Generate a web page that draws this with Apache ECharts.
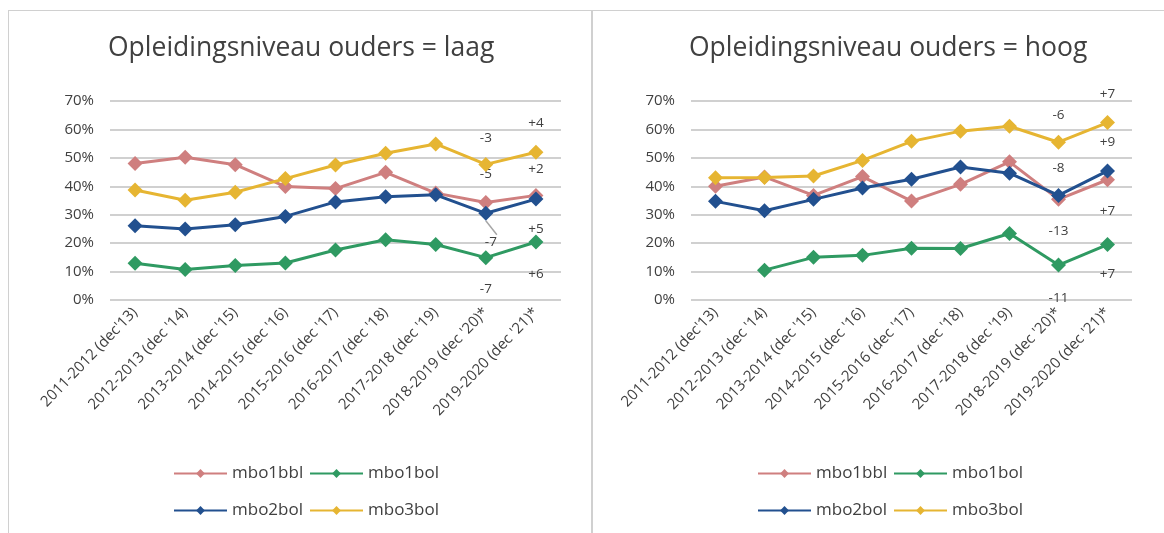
<!DOCTYPE html>
<html lang="nl">
<head>
<meta charset="utf-8"/>
<title>Opleidingsniveau ouders</title>
<script src="https://cdn.jsdelivr.net/npm/echarts@6/dist/echarts.min.js"></script>
<style>
	body { margin: 0; background: #fff; }
	.panel { position: absolute; top: 10px; height: 523px; box-sizing: border-box; border-top: 1px solid #d0d0d0; }
	#laag { left: 8px; width: 585px; border-left: 1px solid #d0d0d0; border-right: 2px solid #d0d0d0; }
	#hoog { left: 593px; width: 571px; }
</style>
</head>
<body>
<div id="laag" class="panel"></div>
<div id="hoog" class="panel"></div>

<script type="text/javascript">
	var categories = ["2011-2012 (dec'13)", "2012-2013 (dec '14)", "2013-2014 (dec '15)", "2014-2015 (dec '16)",
		"2015-2016 (dec '17)", "2016-2017 (dec '18)", "2017-2018 (dec '19)", "2018-2019 (dec '20)*", "2019-2020 (dec '21)*"];
	var seriesNames = ['mbo1bbl', 'mbo1bol', 'mbo2bol', 'mbo3bol'];
	var yTicks = [0, 10, 20, 30, 40, 50, 60, 70];

	// ouders laag (in %)
	var laagMbo1bbl = [48.0, 50.2, 47.6, 39.9, 39.2, 44.9, 37.6, 34.3, 36.8];
	var laagMbo1bol = [12.9, 10.7, 12.1, 13.0, 17.6, 21.2, 19.5, 14.9, 20.4];
	var laagMbo2bol = [26.1, 25.0, 26.5, 29.4, 34.5, 36.3, 37.0, 30.5, 35.5];
	var laagMbo3bol = [38.7, 35.1, 37.9, 42.7, 47.5, 51.6, 54.9, 47.7, 52.0];
	// verschil-labels laag
	var laagLbl1bbl = [null, null, null, null, null, null, null, '-5', '+2'];
	var laagLbl1bol = [null, null, null, null, null, null, null, '-7', '+6'];
	var laagLbl2bol = [null, null, null, null, null, null, null, '-7', '+5'];
	var laagLbl3bol = [null, null, null, null, null, null, null, '-3', '+4'];

	// ouders hoog (in %)
	var hoogMbo1bbl = [40.0, 43.3, 36.8, 43.4, 34.8, 40.7, 48.6, 35.4, 42.3];
	var hoogMbo1bol = [null, 10.5, 15.0, 15.7, 18.2, 18.1, 23.4, 12.3, 19.5];
	var hoogMbo2bol = [34.7, 31.4, 35.4, 39.4, 42.5, 46.8, 44.6, 36.8, 45.4];
	var hoogMbo3bol = [43.0, 43.1, 43.6, 49.1, 55.8, 59.4, 61.1, 55.5, 62.4];
	// verschil-labels hoog
	var hoogLbl1bbl = [null, null, null, null, null, null, null, '-13', '+7'];
	var hoogLbl1bol = [null, null, null, null, null, null, null, '-11', '+7'];
	var hoogLbl2bol = [null, null, null, null, null, null, null, '-8', '+9'];
	var hoogLbl3bol = [null, null, null, null, null, null, null, '-6', '+7'];

	var colors = ['#cf7f7f', '#2f9a62', '#22508f', '#e6b532'];
	var fontFam = '"Open Sans", "DejaVu Sans", sans-serif';

	function buildOption(title, values, labels, labelPos, labelDist) {
		var series = [];
		for (var i = 0; i < values.length; i++) {
			var lbls = labels[i];
			series.push({
				name: seriesNames[i],
				type: 'line',
				data: values[i].map(function (v, k) {
					var item = { value: v };
					if (lbls[k]) {
						item.label = {
							show: true,
							formatter: lbls[k],
							position: labelPos[i],
							distance: labelDist[i][k]
						};
					}
					return item;
				}),
				color: colors[i],
				symbol: 'diamond',
				symbolSize: 15,
				lineStyle: { width: 3 },
				label: { show: false, color: '#404040', fontSize: 13.5, fontFamily: fontFam },
				connectNulls: false,
				z: 2 + i
			});
		}
		var legends = [];
		for (var j = 0; j < 4; j++) {
			legends.push({
				data: [seriesNames[j]],
				left: j % 2 === 0 ? 164 : 300,
				top: j < 2 ? 454 : 491,
				padding: 0,
				itemWidth: 53,
				itemHeight: 11,
				itemGap: 5,
				textStyle: { fontSize: 17, color: '#404040', fontFamily: fontFam }
			});
		}
		return {
			animation: false,
			title: {
				text: title,
				left: 99,
				top: 24,
				padding: 0,
				textStyle: { fontSize: 26.5, fontWeight: 'normal', color: '#404040', fontFamily: fontFam }
			},
			legend: legends,
			grid: { left: 101, top: 90, width: 451, height: 199 },
			xAxis: {
				type: 'category',
				data: categories,
				boundaryGap: true,
				axisLine: { show: false },
				axisTick: { show: false },
				axisLabel: {
					interval: 0,
					rotate: 46,
					margin: 10,
					color: '#404040',
					fontSize: 15,
					fontFamily: fontFam
				}
			},
			yAxis: {
				type: 'value',
				min: yTicks[0],
				max: yTicks[yTicks.length - 1],
				interval: 10,
				axisLine: { show: false },
				axisTick: { show: false },
				splitLine: { lineStyle: { color: '#d0d0d0', width: 2 } },
				axisLabel: {
					margin: 16,
					formatter: '{value}%',
					color: '#404040',
					fontSize: 15,
					fontFamily: fontFam
				}
			},
			series: series
		};
	}

	var laagChart = echarts.init(document.getElementById('laag'));
	var laagOpt = buildOption('Opleidingsniveau ouders = laag',
		[laagMbo1bbl, laagMbo1bol, laagMbo2bol, laagMbo3bol],
		[laagLbl1bbl, laagLbl1bol, laagLbl2bol, laagLbl3bol],
		['top', 'bottom', 'bottom', 'top'],
		[[0, 0, 0, 0, 0, 0, 0, 14, 12], [0, 0, 0, 0, 0, 0, 0, 17, 18], [0, 0, 0, 0, 0, 0, 0, 14, 16], [0, 0, 0, 0, 0, 0, 0, 12, 15]]);
	// "-7" bij mbo2bol is verplaatst, met verbindingslijntje
	var moved = laagOpt.series[2].data[7];
	moved.label.offset = [5, 0];
	moved.labelLine = { show: true, lineStyle: { color: '#a6a6a6', width: 1.5 } };
	laagChart.setOption(laagOpt);

	var hoogChart = echarts.init(document.getElementById('hoog'));
	var hoogOpt = buildOption('Opleidingsniveau ouders = hoog',
		[hoogMbo1bbl, hoogMbo1bol, hoogMbo2bol, hoogMbo3bol],
		[hoogLbl1bbl, hoogLbl1bol, hoogLbl2bol, hoogLbl3bol],
		['bottom', 'bottom', 'top', 'top'],
		[[0, 0, 0, 0, 0, 0, 0, 17, 17], [0, 0, 0, 0, 0, 0, 0, 19, 15], [0, 0, 0, 0, 0, 0, 0, 13, 14], [0, 0, 0, 0, 0, 0, 0, 13, 14]]);
	hoogOpt.grid = { left: 98, top: 90, width: 441, height: 199 };
	hoogOpt.title.left = 96;
	hoogChart.setOption(hoogOpt);
</script>
</body>
</html>
